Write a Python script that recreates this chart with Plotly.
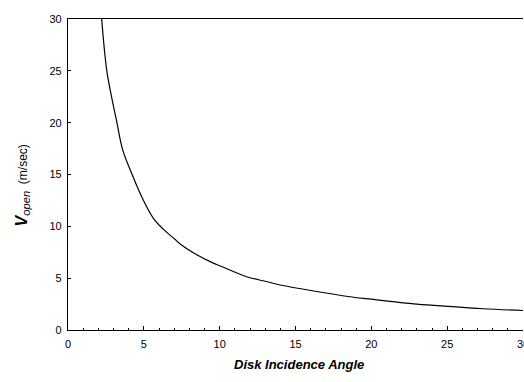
import plotly.graph_objects as go

angle = [2.22, 2.55, 2.9, 3.2, 3.6, 4.2, 4.86, 5.62, 6.3, 7.05, 7.4, 8.26, 9.58, 10.0,
         11.78, 13.0, 14.0, 16.2, 18.6, 20.0, 23.0, 25.0, 27.4, 30.0]
v_open = [30.0, 25.1, 22.3, 20.2, 17.4, 15.1, 12.85, 10.8, 9.7, 8.75, 8.3, 7.45, 6.45, 6.2,
          5.14, 4.7, 4.34, 3.76, 3.21, 2.97, 2.5, 2.28, 2.05, 1.88]
tick_vals = [0, 5, 10, 15, 20, 25, 30]
x_title = "<b><i>Disk Incidence Angle</i></b>"
y_title = "<b><i>V</i></b><sub><i>open</i></sub><span style='font-size:12px'>  (m/sec)</span>"

font = "Arial, Liberation Sans, sans-serif"

fig = go.Figure()
fig.add_trace(go.Scatter(x=angle, y=v_open, mode="lines",
                         line=dict(color="black", width=1.2), line_shape="spline",
                         showlegend=False))

fig.update_layout(
    width=524, height=382,
    margin=dict(l=68, r=1, t=19, b=52),
    paper_bgcolor="white", plot_bgcolor="white",
    font=dict(family=font, color="black", size=11),
    xaxis=dict(
        range=[0, 30], tickvals=tick_vals, ticks="inside", ticklen=4, tickwidth=1,
        tickcolor="black", showline=True, linecolor="black", linewidth=1.3, mirror=True,
        showgrid=False, zeroline=False, automargin=False, ticklabeloverflow="allow",
        ticklabelstandoff=4,
        minor=dict(dtick=1, ticks="inside", ticklen=2, tickcolor="black", showgrid=False),
        tickfont=dict(size=11, family=font),
    ),
    yaxis=dict(
        range=[0, 30], tickvals=tick_vals, ticks="inside", ticklen=3, tickwidth=1,
        tickcolor="black", showline=True, linecolor="black", linewidth=1.3, mirror=False,
        showgrid=False, zeroline=False, automargin=False, ticklabelstandoff=3,
        tickfont=dict(size=11, family=font),
    ),
    annotations=[
        dict(text=x_title, xref="paper", yref="paper", x=0.508, y=-0.1125,
             xanchor="center", yanchor="middle", showarrow=False,
             font=dict(size=13, family=font, color="black")),
        dict(text=y_title, xref="paper", yref="paper", x=-0.101, y=0.465,
             xanchor="center", yanchor="middle", showarrow=False, textangle=-90,
             font=dict(size=16, family=font, color="black")),
    ],
)

fig.write_html("out.html", config={"displayModeBar": False},
               post_script="document.body.style.margin='0';document.body.style.overflow='hidden';")
